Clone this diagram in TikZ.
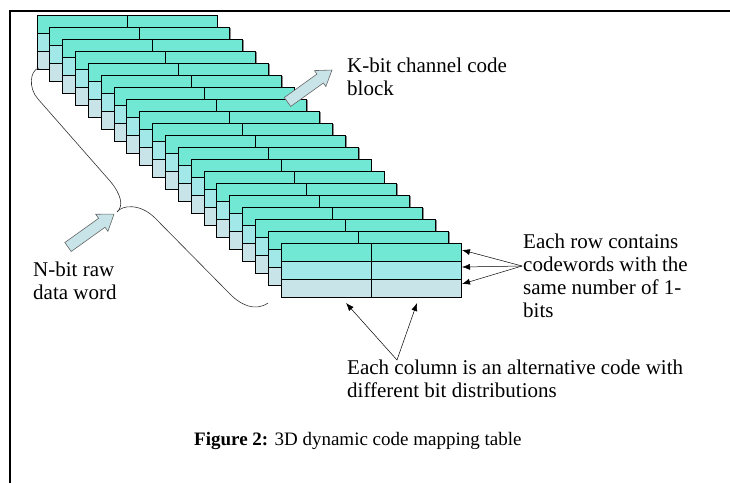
\documentclass[tikz,border=0pt]{standalone}
\usepackage{fontspec}
\setmainfont{Liberation Serif}
\usetikzlibrary{arrows.meta}
\definecolor{rowA}{RGB}{112,232,212}
\definecolor{rowB}{RGB}{162,232,232}
\definecolor{rowC}{RGB}{200,228,232}
\definecolor{arrowfill}{RGB}{200,228,232}
\newcommand{\fatarrow}[6]{% tail x, tail y, angle, length, head length, head half width
  \begin{scope}[shift={(#1,#2)}, rotate=#3]
    \draw[blockarrow] (0,-5.5) -- ({#4-#5},-5.5) -- ({#4-#5},-#6) -- (#4,0) -- ({#4-#5},#6) -- ({#4-#5},5.5) -- (0,5.5) -- cycle;
  \end{scope}}
\begin{document}
\begin{tikzpicture}[x=1pt,y=-1pt,
  lbl/.style={font=\fontsize{21}{23.3}\selectfont, align=left, inner sep=0pt, anchor=base west},
  captxt/.style={font=\fontsize{19}{22}\selectfont, inner sep=0pt, anchor=base west},
  thin/.style={-{Latex[length=8pt,width=6pt]}, line width=0.5pt},
  blockarrow/.style={fill=arrowfill, draw=black!60, line width=0.6pt},
  blockline/.style={draw=black, line width=0.8pt},
  bracecurve/.style={draw=black!80, line width=0.6pt}]
\useasboundingbox (0,0) rectangle (730,483);
\draw[line width=2.4pt] (10,483) -- (10,11) -- (730,11);
\foreach \i in {0,...,19} {
  \pgfmathsetmacro{\xo}{37+\i*12.84}
  \pgfmathsetmacro{\yo}{15+\i*12}
  \begin{scope}[shift={(\xo,\yo)}]
    \fill[black!45] (1.4,1.4) rectangle (181.4,55.4);
    \fill[rowA] (0,0) rectangle (180,18);
    \fill[rowB] (0,18) rectangle (180,36);
    \fill[rowC] (0,36) rectangle (180,54);
    \draw[blockline] (0,0) rectangle (180,54);
    \draw[blockline] (0,18) -- (180,18) (0,36) -- (180,36) (90,0) -- (90,54);
  \end{scope}
}
% brace
\draw[bracecurve] (39,68) .. controls (30,70) and (28,88) .. (38,99) -- (110,181) .. controls (121,194) and (124,206) .. (117,212);
\draw[bracecurve] (117,212) .. controls (122,205) and (140,203) .. (155,218) -- (228,292) .. controls (240,305) and (255,312) .. (268,303);
% block arrows
\fatarrow{68}{247}{35.6}{56.6}{15}{10.5}
\fatarrow{287.5}{102}{35.7}{54.8}{14.6}{9.8}
% labels (anchored at the baseline of the last line)
\node[lbl] (kbit) at (347,95.3) {K-bit channel code\\block};
\node[lbl] (nbit) at (33,299.3) {N-bit raw\\data word};
\node[lbl] (rowtxt) at (523,317.9) {Each row contains\\codewords with the\\same number of 1-\\bits};
\node[lbl] (coltxt) at (347,397.3) {Each column is an alternative code with\\different bit distributions};
\node[captxt] (caption) at (194,445) {\textbf{Figure 2:} 3D dynamic code mapping table};
% thin arrows
\coordinate (rowsrc) at (522,266);
\coordinate (r1) at (462,250);
\coordinate (r2) at (462,267);
\coordinate (r3) at (462,284);
\draw[thin] (rowsrc) -- (r1);
\draw[thin] (rowsrc) -- (r2);
\draw[thin] (rowsrc) -- (r3);
\coordinate (colsrc) at (397,360);
\coordinate (c1) at (346,303);
\coordinate (c2) at (417,303);
\draw[thin] (colsrc) -- (c1);
\draw[thin] (colsrc) -- (c2);
\end{tikzpicture}
\end{document}
